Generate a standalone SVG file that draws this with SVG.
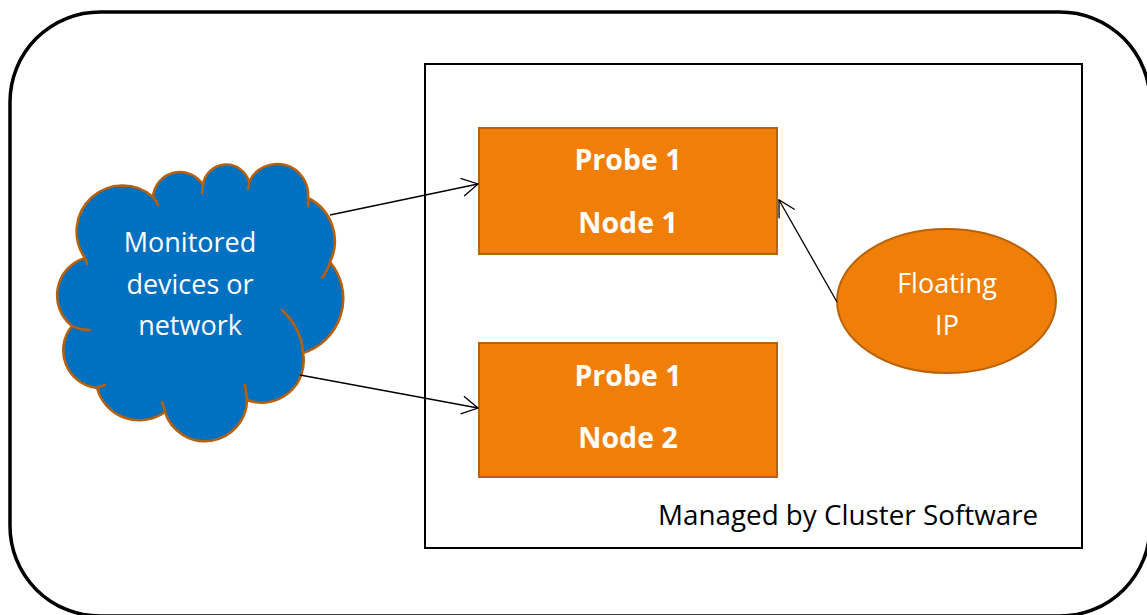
<svg xmlns="http://www.w3.org/2000/svg" width="1147" height="615" viewBox="0 0 1147 615">
  <style>
    .lbl { font-family: "Open Sans", "Noto Sans", "DejaVu Sans", sans-serif; font-size: 27px; text-anchor: middle; fill: #ffffff; }
    .bold { font-weight: bold; font-size: 28.5px; }
    .box { fill: #F07F09; stroke: #B9620A; stroke-width: 2; }
    .edge { fill: none; stroke: #000000; stroke-width: 1.3; }
    .cloudline { fill: none; stroke: #B5610C; stroke-width: 2.6; stroke-linecap: round; }
  </style>
  <defs>
    <marker id="openArrow" markerUnits="userSpaceOnUse" markerWidth="24" markerHeight="24" viewBox="-20 -12 24 24" refX="0" refY="0" orient="auto">
      <path d="M -16 -9 L 0 0 L -16 9" fill="none" stroke="#000000" stroke-width="1.3"/>
    </marker>
  </defs>

  <rect width="1147" height="615" fill="#ffffff"/>

  <!-- outer rounded frame -->
  <g id="frame">
    <rect x="10" y="12" width="1140" height="604" rx="90" ry="90" fill="none" stroke="#000000" stroke-width="3.5"/>
  </g>

  <!-- cluster boundary -->
  <g id="cluster">
    <rect x="425" y="64" width="657" height="484" fill="none" stroke="#000000" stroke-width="2"/>
    <text x="658" y="525" font-family="'Open Sans', 'Noto Sans', 'DejaVu Sans', sans-serif" font-size="27.8" fill="#000000">Managed by Cluster Software</text>
  </g>

  <!-- monitored devices cloud -->
  <g id="cloud">
    <path d="M 85 258
             A 46 46 0 0 1 153 197
             A 27 27 0 0 1 203 185
             A 23.5 23.5 0 0 1 249 182
             A 31 31 0 0 1 308 198
             A 48 48 0 0 1 330 262
             A 57 57 0 0 1 303 353
             A 42 42 0 0 1 247 400
             A 42 42 0 0 1 165 412
             A 44 44 0 0 1 97 388
             A 38 38 0 0 1 72 326
             A 39 39 0 0 1 85 258 Z"
          fill="#0070C0" stroke="#B5610C" stroke-width="2.6" stroke-linejoin="round"/>
    <path class="cloudline" d="M 153 197 Q 156 200 158 205"/>
    <path class="cloudline" d="M 203 185 Q 203 189 202 193"/>
    <path class="cloudline" d="M 249 182 Q 249 185 248 189"/>
    <path class="cloudline" d="M 308 198 Q 309 201 308 206"/>
    <path class="cloudline" d="M 330 262 Q 328 270 322 278"/>
    <path class="cloudline" d="M 303 353 Q 301.5 328.5 282 310"/>
    <path class="cloudline" d="M 247 400 Q 246 392 245 385"/>
    <path class="cloudline" d="M 165 412 Q 164 407 162 402"/>
    <path class="cloudline" d="M 97 388 Q 101 386 105 385"/>
    <path class="cloudline" d="M 72 326 Q 80 330 90 330"/>
    <path class="cloudline" d="M 85 258 Q 86 260 87 264"/>
    <text class="lbl" x="190" y="252">Monitored</text>
    <text class="lbl" x="190" y="294">devices or</text>
    <text class="lbl" x="190" y="335">network</text>
  </g>

  <!-- probe on node 1 -->
  <g id="node1">
    <rect class="box" x="479" y="128" width="298" height="126"/>
    <text class="lbl bold" x="628" y="170">Probe 1</text>
    <text class="lbl bold" x="628" y="233">Node 1</text>
  </g>

  <!-- probe on node 2 -->
  <g id="node2">
    <rect class="box" x="479" y="343" width="298" height="134"/>
    <text class="lbl bold" x="628" y="386">Probe 1</text>
    <text class="lbl bold" x="628" y="448">Node 2</text>
  </g>

  <!-- floating IP -->
  <g id="floatingip">
    <ellipse cx="946.5" cy="301" rx="109.5" ry="72" fill="#F07F09" stroke="#B9620A" stroke-width="2"/>
    <text class="lbl" x="947" y="293">Floating</text>
    <text class="lbl" x="947" y="335">IP</text>
  </g>

  <!-- connectors -->
  <g id="connectors">
    <line class="edge" x1="330" y1="215" x2="478" y2="184" marker-end="url(#openArrow)"/>
    <line class="edge" x1="300" y1="375" x2="478" y2="408" marker-end="url(#openArrow)"/>
    <line class="edge" x1="837" y1="302" x2="779" y2="200" marker-end="url(#openArrow)"/>
  </g>
</svg>
